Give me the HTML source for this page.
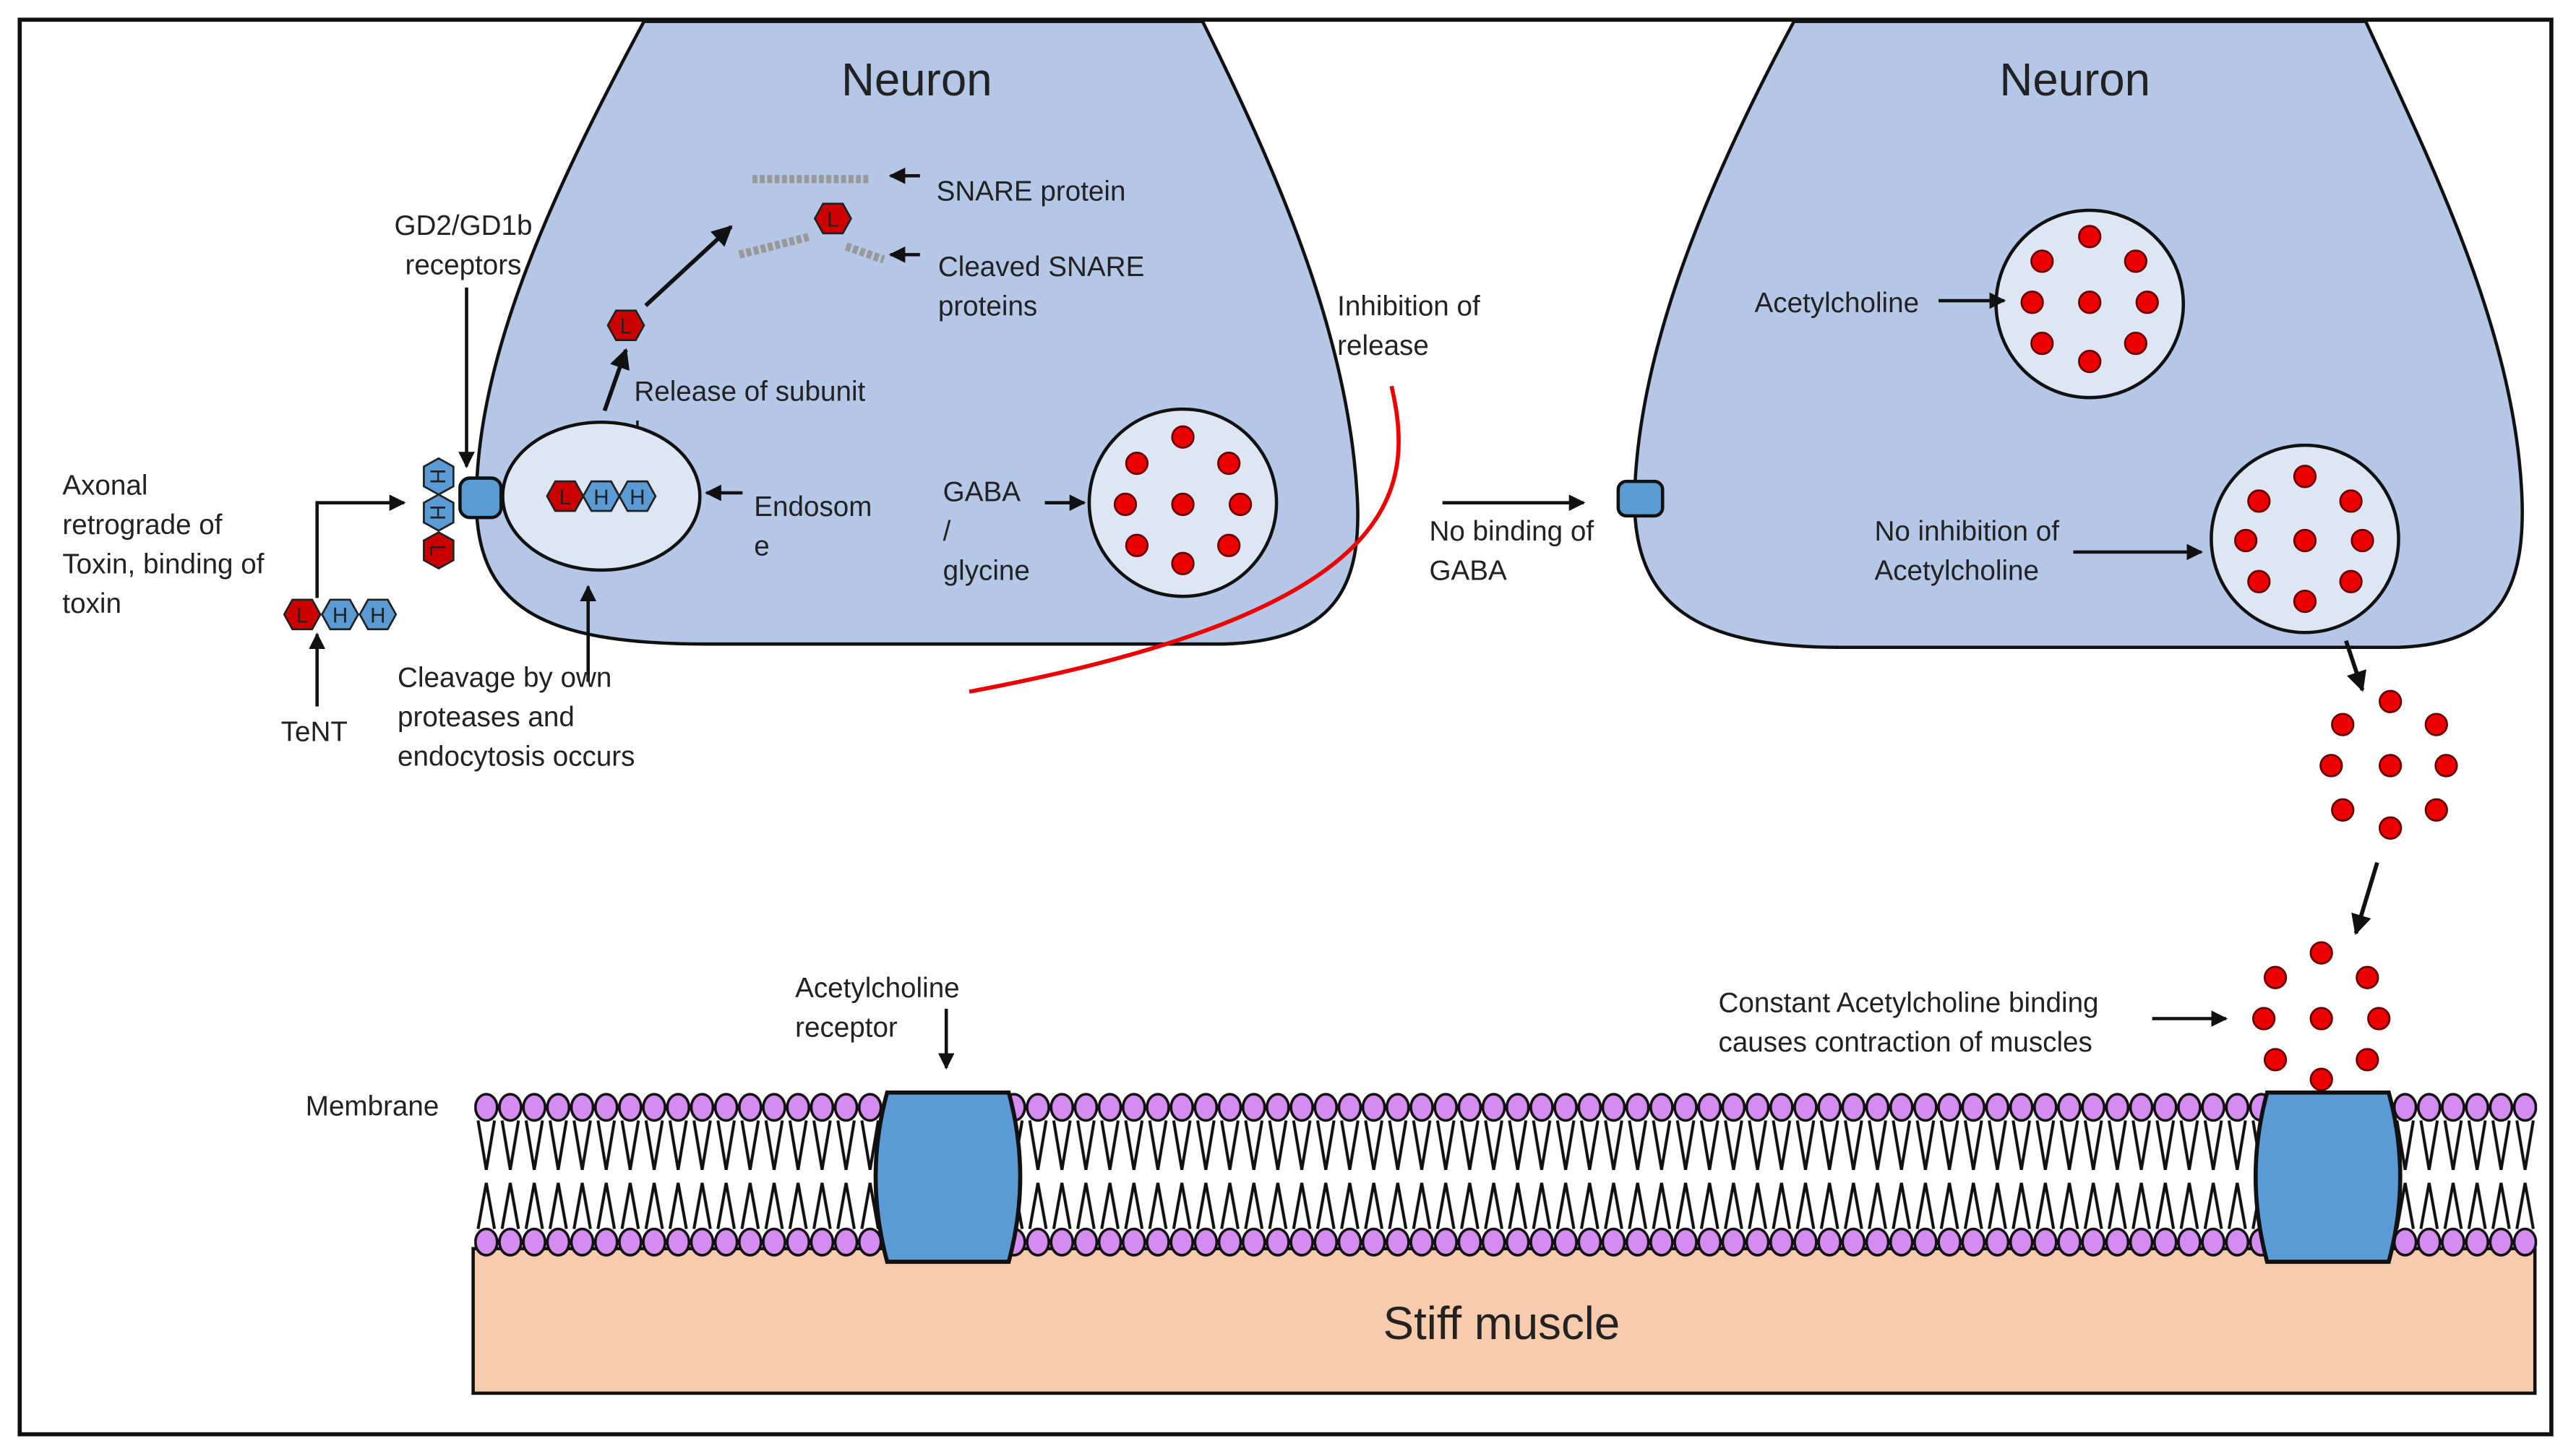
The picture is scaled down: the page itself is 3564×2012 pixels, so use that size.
<!DOCTYPE html>
<html><head><meta charset="utf-8"><style>html,body{margin:0;padding:0;background:#fff}svg{display:block}text{font-family:"Liberation Sans",sans-serif;fill:#222}</style></head><body>
<svg width="3564" height="2012" viewBox="0 0 1568 885" preserveAspectRatio="none" xmlns="http://www.w3.org/2000/svg">
<defs>
<marker id="a" viewBox="0 0 10 10" refX="9" refY="5" markerWidth="5" markerHeight="5" orient="auto"><path d="M0,0L10,5L0,10z" fill="#111"/></marker>
<g id="hr"><polygon points="-11,0 -6,-9 6,-9 11,0 6,9 -6,9" fill="#c00" stroke="#222" stroke-width="1.2"/><text x="0" y="5" font-size="13" text-anchor="middle" style="fill:#222">L</text></g>
<g id="hb"><polygon points="-11,0 -6,-9 6,-9 11,0 6,9 -6,9" fill="#5b9bd5" stroke="#222" stroke-width="1.2"/><text x="0" y="5" font-size="13" text-anchor="middle" style="fill:#222">H</text></g>
<pattern id="mp" patternUnits="userSpaceOnUse" x="288.7" y="664" width="14.6" height="104">
<path d="M2.3,18 L7.3,48 L12.3,18 M2.3,84 L7.3,56 L12.3,84" fill="none" stroke="#111" stroke-width="1.8"/>
<ellipse cx="7.3" cy="10" rx="6.6" ry="8" fill="#d58cf0" stroke="#111" stroke-width="1.6"/>
<ellipse cx="7.3" cy="92" rx="6.6" ry="8" fill="#d58cf0" stroke="#111" stroke-width="1.6"/>
</pattern>
</defs>
<rect x="12" y="12" width="1541" height="861" fill="#fff" stroke="#111" stroke-width="2.5"/>
<!-- neurons -->
<path d="M392,13 C340,110 292,210 290,300 C288,370 330,392 430,392 L745,392 C810,390 830,360 826,300 C820,200 775,100 732,13 Z" fill="#b4c7e7" stroke="#111" stroke-width="2"/>
<path d="M1092,13 C1040,110 998,210 995,300 C993,370 1035,394 1120,394 L1460,394 C1520,392 1538,360 1535,300 C1530,200 1480,100 1440,13 Z" fill="#b4c7e7" stroke="#111" stroke-width="2"/>
<text x="558" y="58" font-size="28" text-anchor="middle">Neuron</text>
<text x="1263" y="58" font-size="28" text-anchor="middle">Neuron</text>
<!-- SNARE -->
<line x1="458" y1="109" x2="530" y2="109" stroke="#999" stroke-width="5" stroke-dasharray="3,1.5"/>
<line x1="450" y1="155" x2="493" y2="144" stroke="#999" stroke-width="5" stroke-dasharray="3,1.5"/>
<line x1="515" y1="150" x2="538" y2="158" stroke="#999" stroke-width="5" stroke-dasharray="3,1.5"/>
<use href="#hr" x="507" y="133"/>
<use href="#hr" x="381" y="198"/>
<line x1="393" y1="186" x2="445" y2="138" stroke="#111" stroke-width="2.5" marker-end="url(#a)"/>
<line x1="368" y1="250" x2="381" y2="213" stroke="#111" stroke-width="2.5" marker-end="url(#a)"/>
<line x1="560" y1="107" x2="542" y2="107" stroke="#111" stroke-width="2" marker-end="url(#a)"/>
<line x1="560" y1="155" x2="542" y2="155" stroke="#111" stroke-width="2" marker-end="url(#a)"/>
<text x="570" y="122" font-size="17">SNARE protein</text>
<text x="571" y="168" font-size="17">Cleaved SNARE</text>
<text x="571" y="192" font-size="17">proteins</text>
<text x="386" y="244" font-size="17">Release of subunit</text>
<path d="M388,256 L388,266 L396,266" fill="none" stroke="#111" stroke-width="1.5"/>
<!-- endosome -->
<ellipse cx="366" cy="302" rx="60" ry="45" fill="#dee6f3" stroke="#111" stroke-width="2"/>
<use href="#hr" x="344" y="302"/><use href="#hb" x="366" y="302"/><use href="#hb" x="388" y="302"/>
<line x1="452" y1="300" x2="430" y2="300" stroke="#111" stroke-width="2" marker-end="url(#a)"/>
<text x="459" y="314" font-size="17">Endosom</text>
<text x="459" y="338" font-size="17">e</text>
<!-- receptor -->
<rect x="280" y="291" width="25" height="24" rx="6" fill="#5b9bd5" stroke="#111" stroke-width="2"/>
<use href="#hb" x="267" y="290" transform="rotate(90 267 290)"/>
<use href="#hb" x="267" y="312" transform="rotate(90 267 312)"/>
<use href="#hr" x="267" y="335" transform="rotate(90 267 335)"/>
<line x1="284" y1="175" x2="284" y2="284" stroke="#111" stroke-width="2" marker-end="url(#a)"/>
<text x="282" y="143" font-size="17" text-anchor="middle">GD2/GD1b</text>
<text x="282" y="167" font-size="17" text-anchor="middle">receptors</text>
<path d="M193,364 L193,306 L246,306" fill="none" stroke="#111" stroke-width="2" marker-end="url(#a)"/>
<use href="#hr" x="184" y="374"/><use href="#hb" x="207" y="374"/><use href="#hb" x="230" y="374"/>
<line x1="193" y1="430" x2="193" y2="386" stroke="#111" stroke-width="2" marker-end="url(#a)"/>
<text x="171" y="451" font-size="17">TeNT</text>
<text x="38" y="301" font-size="17">Axonal</text>
<text x="38" y="325" font-size="17">retrograde of</text>
<text x="38" y="349" font-size="17">Toxin, binding of</text>
<text x="38" y="373" font-size="17">toxin</text>
<line x1="358" y1="415" x2="358" y2="357" stroke="#111" stroke-width="2" marker-end="url(#a)"/>
<text x="242" y="418" font-size="17">Cleavage by own</text>
<text x="242" y="442" font-size="17">proteases and</text>
<text x="242" y="466" font-size="17">endocytosis occurs</text>
<!-- GABA vesicle -->
<circle cx="720" cy="306" r="57" fill="#dee6f3" stroke="#111" stroke-width="2"/>
<g fill="#e00" stroke="#600" stroke-width="1.2">
<circle cx="720" cy="266" r="6.5"/><circle cx="692" cy="282" r="6.5"/><circle cx="748" cy="282" r="6.5"/>
<circle cx="685" cy="307" r="6.5"/><circle cx="720" cy="307" r="6.5"/><circle cx="755" cy="307" r="6.5"/>
<circle cx="692" cy="332" r="6.5"/><circle cx="748" cy="332" r="6.5"/><circle cx="720" cy="343" r="6.5"/>
</g>
<line x1="636" y1="306" x2="660" y2="306" stroke="#111" stroke-width="2" marker-end="url(#a)"/>
<text x="574" y="305" font-size="17">GABA</text>
<text x="574" y="329" font-size="17">/</text>
<text x="574" y="353" font-size="17">glycine</text>
<!-- red curve -->
<path d="M847,235 C862,300 852,372 590,421" fill="none" stroke="#e00" stroke-width="2.5"/>
<text x="814" y="192" font-size="17">Inhibition of</text>
<text x="814" y="216" font-size="17">release</text>
<line x1="878" y1="306" x2="964" y2="306" stroke="#111" stroke-width="2" marker-end="url(#a)"/>
<text x="870" y="329" font-size="17">No binding of</text>
<text x="870" y="353" font-size="17">GABA</text>
<rect x="985" y="293" width="27" height="21" rx="5" fill="#5b9bd5" stroke="#111" stroke-width="2"/>
<!-- right vesicles -->
<circle cx="1272" cy="185" r="57" fill="#dee6f3" stroke="#111" stroke-width="2"/>
<circle cx="1403" cy="328" r="57" fill="#dee6f3" stroke="#111" stroke-width="2"/>
<g fill="#e00" stroke="#600" stroke-width="1.2">
<circle cx="1272" cy="144" r="6.5"/><circle cx="1243" cy="159" r="6.5"/><circle cx="1300" cy="159" r="6.5"/>
<circle cx="1237" cy="184" r="6.5"/><circle cx="1272" cy="184" r="6.5"/><circle cx="1307" cy="184" r="6.5"/>
<circle cx="1243" cy="209" r="6.5"/><circle cx="1300" cy="209" r="6.5"/><circle cx="1272" cy="220" r="6.5"/>
<circle cx="1403" cy="290" r="6.5"/><circle cx="1375" cy="305" r="6.5"/><circle cx="1431" cy="305" r="6.5"/>
<circle cx="1367" cy="329" r="6.5"/><circle cx="1403" cy="329" r="6.5"/><circle cx="1438" cy="329" r="6.5"/>
<circle cx="1375" cy="354" r="6.5"/><circle cx="1431" cy="354" r="6.5"/><circle cx="1403" cy="366" r="6.5"/>
<circle cx="1426" cy="441" r="6.5"/><circle cx="1455" cy="427" r="6.5"/><circle cx="1483" cy="441" r="6.5"/>
<circle cx="1419" cy="466" r="6.5"/><circle cx="1455" cy="466" r="6.5"/><circle cx="1489" cy="466" r="6.5"/>
<circle cx="1426" cy="493" r="6.5"/><circle cx="1455" cy="504" r="6.5"/><circle cx="1483" cy="493" r="6.5"/>
<circle cx="1385" cy="595" r="6.5"/><circle cx="1413" cy="580" r="6.5"/><circle cx="1441" cy="595" r="6.5"/>
<circle cx="1378" cy="620" r="6.5"/><circle cx="1413" cy="620" r="6.5"/><circle cx="1448" cy="620" r="6.5"/>
<circle cx="1385" cy="645" r="6.5"/><circle cx="1441" cy="645" r="6.5"/><circle cx="1413" cy="657" r="6.5"/>
</g>
<line x1="1180" y1="183" x2="1220" y2="183" stroke="#111" stroke-width="2" marker-end="url(#a)"/>
<text x="1068" y="190" font-size="17">Acetylcholine</text>
<line x1="1262" y1="336" x2="1340" y2="336" stroke="#111" stroke-width="2" marker-end="url(#a)"/>
<text x="1141" y="329" font-size="17">No inhibition of</text>
<text x="1141" y="353" font-size="17">Acetylcholine</text>
<line x1="1428" y1="390" x2="1438" y2="420" stroke="#111" stroke-width="2.5" marker-end="url(#a)"/>
<line x1="1447" y1="525" x2="1434" y2="568" stroke="#111" stroke-width="2.5" marker-end="url(#a)"/>
<line x1="1310" y1="620" x2="1355" y2="620" stroke="#111" stroke-width="2" marker-end="url(#a)"/>
<text x="1046" y="616" font-size="17">Constant Acetylcholine binding</text>
<text x="1046" y="640" font-size="17">causes contraction of muscles</text>
<text x="484" y="607" font-size="17">Acetylcholine</text>
<text x="484" y="631" font-size="17">receptor</text>
<line x1="576" y1="614" x2="576" y2="650" stroke="#111" stroke-width="2" marker-end="url(#a)"/>
<text x="186" y="679" font-size="17">Membrane</text>
<!-- muscle -->
<rect x="288" y="760" width="1255" height="88" fill="#f8cbad" stroke="#111" stroke-width="2"/>
<text x="914" y="815" font-size="28" text-anchor="middle">Stiff muscle</text>
<!-- membrane -->
<rect x="288.7" y="664" width="1255.6" height="104" fill="url(#mp)"/>
<g fill="#5b9bd5" stroke="#111" stroke-width="2.5">
<path d="M540,665 L614,665 Q628,716 614,768 L540,768 Q526,716 540,665 Z"/>
<path d="M1380,665 L1454,665 Q1468,716 1454,768 L1380,768 Q1366,716 1380,665 Z"/>
</g>
</svg>
</body></html>
